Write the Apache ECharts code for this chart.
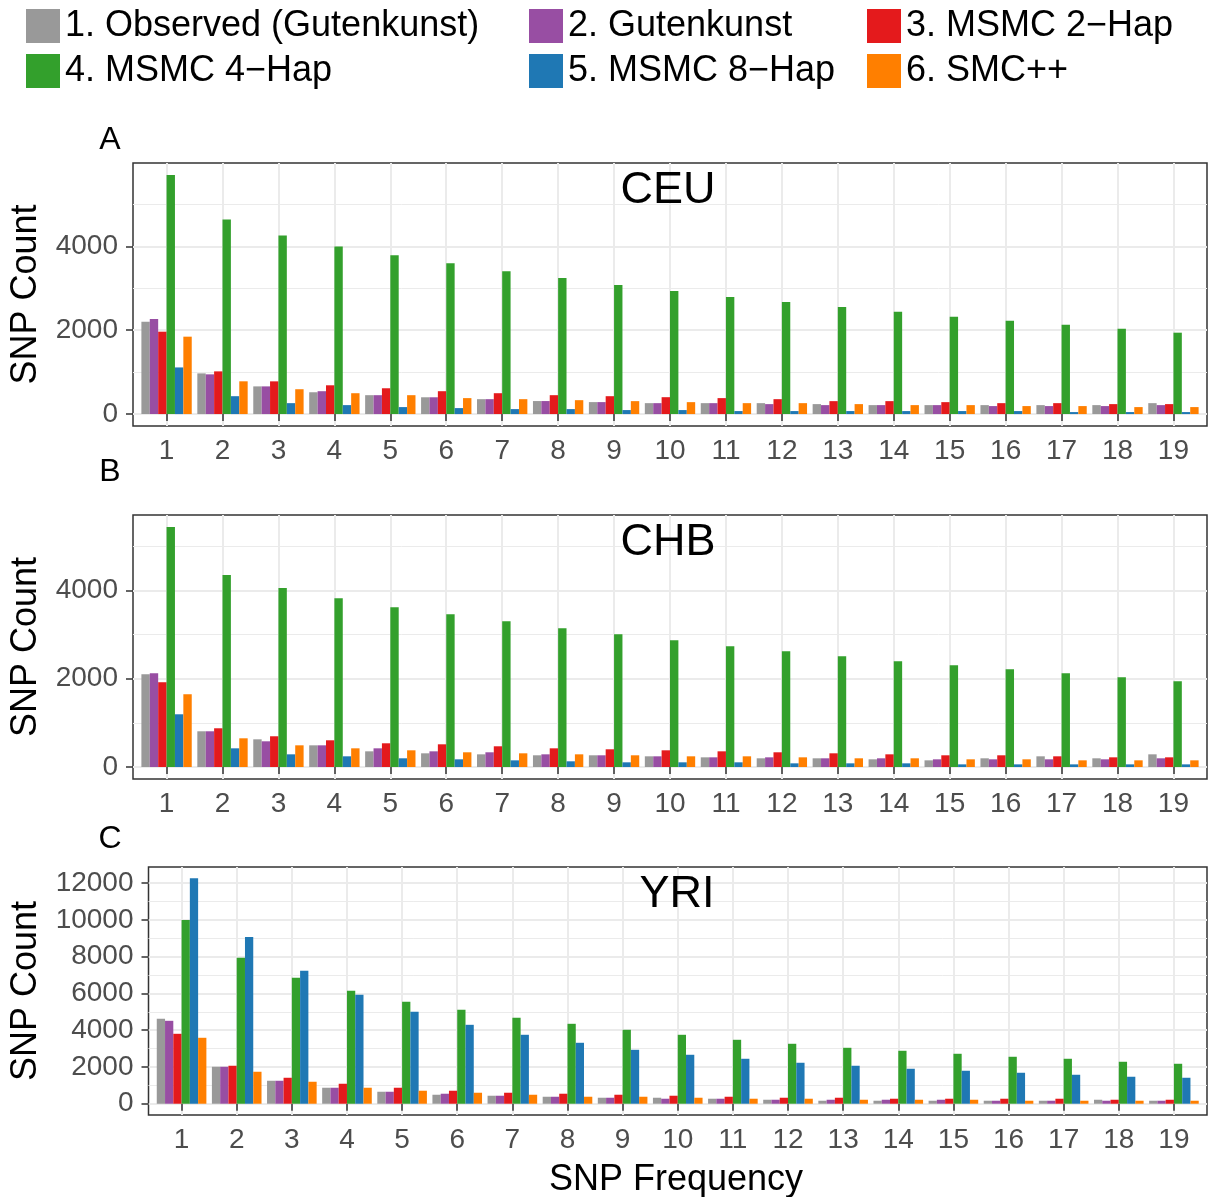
<!DOCTYPE html>
<html>
<head>
<meta charset="utf-8">
<script src="https://cdn.jsdelivr.net/npm/echarts@6/dist/echarts.min.js"></script>
<style>
  html, body { margin: 0; padding: 0; background: #fff; }
  #chart { width: 1211px; height: 1197px; }
</style>
</head>
<body>
<div id="chart"></div>
<script>
// categories
const freqs = [1, 2, 3, 4, 5, 6, 7, 8, 9, 10, 11, 12, 13, 14, 15, 16, 17, 18, 19]
const seriesNames = ['1. Observed (Gutenkunst)', '2. Gutenkunst', '3. MSMC 2\u2212Hap',
  '4. MSMC 4\u2212Hap', '5. MSMC 8\u2212Hap', '6. SMC++']
const seriesColors = ['#999999', '#984EA3', '#E41A1C', '#33A02C', '#1F78B4', '#FF7F00']

// A - CEU
const ceuObserved = [2200, 970, 660, 520, 450, 400, 355, 310, 285, 260, 260, 260, 237, 213, 213, 213, 213, 213, 260]
const ceuGutenkunst = [2270, 947, 660, 545, 450, 400, 355, 310, 285, 260, 260, 237, 213, 213, 213, 190, 190, 190, 213]
const ceuMsmc2 = [1965, 1018, 780, 686, 615, 545, 497, 450, 426, 402, 380, 355, 308, 308, 284, 260, 260, 237, 237]
const ceuMsmc4 = [5704, 4639, 4260, 4000, 3787, 3598, 3408, 3243, 3077, 2935, 2793, 2675, 2556, 2438, 2320, 2225, 2130, 2036, 1941]
const ceuMsmc8 = [1112, 426, 260, 213, 166, 142, 118, 118, 95, 95, 71, 71, 71, 71, 71, 71, 47, 47, 47]
const ceuSmcpp = [1846, 781, 592, 497, 450, 380, 355, 331, 308, 284, 260, 260, 237, 213, 213, 190, 190, 166, 166]

// B - CHB
const chbObserved = [2102, 809, 627, 491, 355, 310, 287, 265, 265, 242, 219, 197, 197, 174, 151, 197, 242, 197, 287]
const chbGutenkunst = [2124, 809, 582, 491, 423, 355, 333, 287, 265, 242, 219, 219, 197, 197, 174, 174, 174, 174, 197]
const chbMsmc2 = [1920, 877, 696, 605, 537, 514, 469, 423, 401, 378, 355, 333, 310, 287, 265, 265, 242, 219, 219]
const chbMsmc4 = [5436, 4347, 4052, 3825, 3621, 3462, 3304, 3145, 3009, 2873, 2737, 2623, 2510, 2397, 2306, 2215, 2124, 2034, 1943]
const chbMsmc8 = [1194, 423, 287, 242, 197, 174, 151, 129, 106, 106, 106, 83, 83, 83, 60, 60, 60, 60, 60]
const chbSmcpp = [1648, 650, 491, 423, 378, 333, 310, 287, 265, 242, 242, 219, 197, 197, 174, 174, 151, 151, 151]

// C - YRI
const yriObserved = [4620, 2011, 1250, 870, 652, 489, 435, 380, 326, 326, 272, 217, 163, 163, 163, 163, 163, 217, 163]
const yriGutenkunst = [4512, 2011, 1250, 870, 652, 544, 435, 380, 326, 272, 272, 217, 217, 217, 217, 163, 163, 163, 163]
const yriMsmc2 = [3805, 2066, 1413, 1087, 870, 707, 598, 544, 489, 435, 380, 326, 326, 272, 272, 272, 272, 217, 217]
const yriMsmc4 = [10002, 7937, 6849, 6143, 5545, 5110, 4675, 4349, 4023, 3751, 3479, 3262, 3044, 2881, 2718, 2555, 2446, 2283, 2174]
const yriMsmc8 = [12267, 9078, 7230, 5925, 5001, 4294, 3751, 3316, 2935, 2664, 2446, 2229, 2066, 1903, 1794, 1685, 1576, 1468, 1413]
const yriSmcpp = [3588, 1740, 1196, 870, 707, 598, 489, 380, 380, 326, 272, 272, 217, 217, 217, 163, 163, 163, 163]

// tick labels
const ticksAB = [0, 2000, 4000]
const minorAB = [1000, 3000, 5000]
const ticksC = [0, 2000, 4000, 6000, 8000, 10000, 12000]
const minorC = [1000, 3000, 5000, 7000, 9000, 11000]

const FONT = "'Liberation Sans', Arial, Helvetica, sans-serif"

const panels = [
  { pop: 'CEU', tag: 'A', values: [ceuObserved, ceuGutenkunst, ceuMsmc2, ceuMsmc4, ceuMsmc8, ceuSmcpp],
    ticks: ticksAB, minor: minorAB, grid: { left: 133, right: 4, top: 163, height: 263 },
    tagY: 140, titleX: 668, titleY: 191 },
  { pop: 'CHB', tag: 'B', values: [chbObserved, chbGutenkunst, chbMsmc2, chbMsmc4, chbMsmc8, chbSmcpp],
    ticks: ticksAB, minor: minorAB, grid: { left: 133, right: 4, top: 515, height: 264 },
    tagY: 472, titleX: 668, titleY: 543 },
  { pop: 'YRI', tag: 'C', values: [yriObserved, yriGutenkunst, yriMsmc2, yriMsmc4, yriMsmc8, yriSmcpp],
    ticks: ticksC, minor: minorC, grid: { left: 148.5, right: 4, top: 867, height: 248 },
    tagY: 839, titleX: 677, titleY: 895 }
]

const grids = []
const xAxes = []
const yAxes = []
const minorAxes = []
const series = []
const graphics = []

const textStyle = (text, size) => ({
  text: text, font: size + 'px ' + FONT, fill: '#000',
  align: 'center', verticalAlign: 'middle', textAlign: 'center', textVerticalAlign: 'middle'
})

panels.forEach((p, i) => {
  // ggplot style 5% expansion
  const top = Math.max(...p.values.flat())
  const yMin = -0.05 * top
  const yMax = 1.05 * top

  grids.push(Object.assign({ show: true, borderColor: '#333333', borderWidth: 1.5 }, p.grid))

  xAxes.push({
    type: 'value', gridIndex: i, min: 0.4, max: 19.6,
    axisLine: { show: false },
    axisTick: { show: true, length: 7, customValues: freqs, lineStyle: { color: '#333333', width: 1.5 } },
    axisLabel: { customValues: freqs, margin: 11, fontSize: 28, color: '#4D4D4D', fontFamily: FONT,
      formatter: v => String(v) },
    splitLine: { show: true, lineStyle: { color: '#EBEBEB', width: 2 } }
  })

  yAxes.push({
    type: 'value', gridIndex: i, min: yMin, max: yMax,
    axisLine: { show: false },
    axisTick: { show: true, length: 7, customValues: p.ticks, lineStyle: { color: '#333333', width: 1.5 } },
    axisLabel: { customValues: p.ticks, margin: 15, fontSize: 28, color: '#4D4D4D', fontFamily: FONT,
      formatter: v => String(v) },
    splitLine: { show: true, lineStyle: { color: '#EBEBEB', width: 2 } }
  })

  // minor grid lines
  minorAxes.push({
    type: 'value', gridIndex: i, min: yMin, max: yMax,
    axisLine: { show: false },
    axisTick: { show: false, customValues: p.minor },
    axisLabel: { show: false },
    splitLine: { show: true, lineStyle: { color: '#EBEBEB', width: 1 } }
  })

  p.values.forEach((vals, s) => {
    series.push({
      type: 'bar',
      name: seriesNames[s],
      xAxisIndex: i,
      yAxisIndex: i,
      barWidth: '15%',
      barGap: '0%',
      itemStyle: { color: seriesColors[s] },
      data: freqs.map((f, k) => [f, vals[k]])
    })
  })

  // panel tag, population label, y axis title
  graphics.push({ type: 'text', z: 100, x: 110, y: p.tagY, style: textStyle(p.tag, 32) })
  graphics.push({ type: 'text', z: 100, x: p.titleX, y: p.titleY, style: textStyle(p.pop, 45) })
  graphics.push({
    type: 'text', z: 100, x: 26, y: p.grid.top + p.grid.height / 2, rotation: Math.PI / 2,
    style: textStyle('SNP Count', 36)
  })
})

graphics.push({ type: 'text', z: 100, x: 676, y: 1180, style: textStyle('SNP Frequency', 36) })

const legendBase = {
  orient: 'vertical', top: 8, padding: 0, itemWidth: 34, itemHeight: 34, itemGap: 9,
  icon: 'rect', selectedMode: false,
  textStyle: { fontSize: 36, color: '#000', fontFamily: FONT, lineHeight: 34 }
}

const chart = echarts.init(document.getElementById('chart'))
chart.setOption({
  animation: false,
  backgroundColor: '#fff',
  legend: [
    Object.assign({ left: 26, data: [seriesNames[0], seriesNames[3]] }, legendBase),
    Object.assign({ left: 529, data: [seriesNames[1], seriesNames[4]] }, legendBase),
    Object.assign({ left: 867, data: [seriesNames[2], seriesNames[5]] }, legendBase)
  ],
  grid: grids,
  xAxis: xAxes,
  yAxis: yAxes.concat(minorAxes),
  series: series,
  graphic: graphics
})
</script>
</body>
</html>
